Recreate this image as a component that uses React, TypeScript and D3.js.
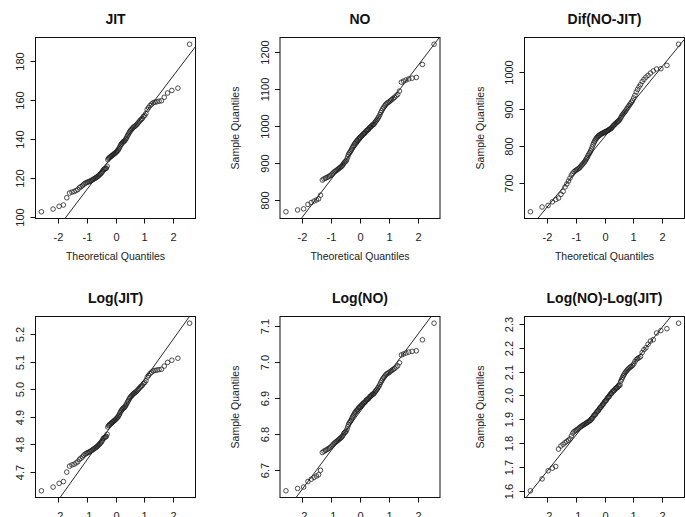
import React, { useEffect, useRef } from 'react';
import * as d3 from 'd3';

const W = 685;
const H = 517;

// sorted sample quantiles (n = 100 each)
const jit = [102.6, 104, 105.4, 106.1, 109.8, 112.2, 112.7, 113, 113.5, 114,
  115, 115.5, 116, 116.7, 117.2, 117.5, 117.8, 118, 118.2, 118.5,
  118.8, 119.1, 119.4, 119.7, 120, 120.3, 120.6, 121, 121.4, 121.8,
  122.2, 122.7, 123.3, 124, 124.3, 124.6, 124.8, 125, 126, 129.3,
  130, 130.3, 130.6, 130.9, 131.2, 131.5, 131.8, 132.1, 132.4, 132.7,
  133, 133.4, 133.8, 134.2, 134.8, 135.5, 136.3, 137, 137.5, 138,
  138.4, 138.7, 139, 139.6, 140.2, 141, 141.8, 142.5, 143.3, 144,
  144.5, 145, 145.5, 146, 146.3, 146.7, 147.1, 147.6, 148.2, 148.8,
  149.5, 150, 150.5, 151.5, 152, 153, 155, 156, 157, 157.8,
  158.5, 158.8, 159, 159.3, 159.5, 161.3, 163.5, 164.8, 166, 188.5];

const no = [767, 772, 775, 787, 792, 796, 799, 802, 812, 853,
  856, 858, 860, 862, 864, 866, 869, 872, 875, 877,
  879, 881, 883, 885, 887, 889, 891, 894, 898, 901,
  903, 905, 910, 916, 922, 926, 929, 932, 936, 940,
  944, 947, 951, 953, 956, 959, 960, 963, 966, 967,
  969, 972, 973, 975, 978, 979, 980, 983, 986, 987,
  989, 990, 993, 996, 997, 999, 1002, 1003, 1004, 1008,
  1011, 1014, 1017, 1021, 1025, 1030, 1036, 1041, 1046, 1050,
  1054, 1058, 1061, 1063, 1065, 1068, 1071, 1074, 1077, 1081,
  1085, 1094, 1118, 1121, 1124, 1127, 1129, 1131, 1166, 1221];

const difNoJit = [623, 636, 640, 650, 656, 660, 670, 678, 690, 698,
  706, 714, 722, 727, 731, 734, 736, 738, 740, 742,
  746, 749, 752, 755, 758, 762, 766, 770, 775, 779,
  783, 787, 792, 798, 804, 809, 813, 817, 820, 823,
  825, 827, 829, 830, 832, 833, 834, 835, 836, 837,
  838, 839, 840, 841, 842, 843, 845, 846, 847, 849,
  851, 854, 856, 858, 860, 862, 864, 866, 868, 870,
  873, 877, 881, 885, 888, 891, 894, 898, 902, 906,
  910, 914, 918, 923, 930, 937, 946, 953, 960, 966,
  974, 980, 986, 991, 997, 1003, 1008, 1009, 1018, 1075];

const logJit = [4.6308, 4.6444, 4.6578, 4.6644, 4.6987, 4.7203, 4.7247, 4.7274, 4.7318, 4.7362,
  4.7449, 4.7493, 4.7536, 4.7596, 4.7639, 4.7664, 4.7690, 4.7707, 4.7724, 4.7749,
  4.7774, 4.7800, 4.7825, 4.7850, 4.7875, 4.7900, 4.7925, 4.7958, 4.7991, 4.8024,
  4.8057, 4.8097, 4.8146, 4.8203, 4.8227, 4.8251, 4.8267, 4.8283, 4.8363, 4.8621,
  4.8675, 4.8698, 4.8721, 4.8744, 4.8767, 4.8790, 4.8813, 4.8836, 4.8858, 4.8881,
  4.8904, 4.8934, 4.8964, 4.8993, 4.9038, 4.9090, 4.9149, 4.9200, 4.9236, 4.9273,
  4.9301, 4.9323, 4.9345, 4.9388, 4.9431, 4.9488, 4.9544, 4.9593, 4.9649, 4.9698,
  4.9733, 4.9767, 4.9802, 4.9836, 4.9857, 4.9884, 4.9911, 4.9945, 4.9986, 5.0026,
  5.0073, 5.0106, 5.0140, 5.0206, 5.0239, 5.0304, 5.0434, 5.0499, 5.0563, 5.0613,
  5.0658, 5.0676, 5.0689, 5.0708, 5.0720, 5.0833, 5.0968, 5.1047, 5.1120, 5.2391];

const logNo = [6.6425, 6.6490, 6.6529, 6.6682, 6.6746, 6.6796, 6.6834, 6.6871, 6.6995, 6.7488,
  6.7523, 6.7546, 6.7569, 6.7593, 6.7616, 6.7639, 6.7673, 6.7708, 6.7742, 6.7765,
  6.7788, 6.7811, 6.7833, 6.7856, 6.7878, 6.7901, 6.7923, 6.7957, 6.8002, 6.8035,
  6.8057, 6.8079, 6.8134, 6.8200, 6.8265, 6.8309, 6.8341, 6.8373, 6.8416, 6.8459,
  6.8501, 6.8533, 6.8575, 6.8596, 6.8628, 6.8659, 6.8669, 6.8701, 6.8732, 6.8742,
  6.8763, 6.8794, 6.8804, 6.8824, 6.8855, 6.8865, 6.8876, 6.8906, 6.8937, 6.8947,
  6.8967, 6.8977, 6.9007, 6.9038, 6.9048, 6.9068, 6.9098, 6.9108, 6.9118, 6.9157,
  6.9187, 6.9217, 6.9246, 6.9285, 6.9325, 6.9373, 6.9431, 6.9479, 6.9527, 6.9566,
  6.9604, 6.9641, 6.9670, 6.9689, 6.9707, 6.9736, 6.9764, 6.9792, 6.9819, 6.9856,
  6.9893, 6.9976, 7.0193, 7.0220, 7.0247, 7.0273, 7.0291, 7.0309, 7.0613, 7.1074];

const logNoMinusLogJit = [1.600, 1.650, 1.684, 1.695, 1.702, 1.775, 1.788, 1.795, 1.802, 1.808,
  1.812, 1.818, 1.830, 1.842, 1.848, 1.852, 1.855, 1.858, 1.862, 1.866,
  1.869, 1.872, 1.875, 1.877, 1.879, 1.882, 1.885, 1.887, 1.889, 1.892,
  1.894, 1.897, 1.902, 1.904, 1.910, 1.915, 1.918, 1.920, 1.926, 1.931,
  1.934, 1.936, 1.942, 1.947, 1.950, 1.952, 1.958, 1.963, 1.964, 1.970,
  1.975, 1.978, 1.980, 1.986, 1.991, 1.994, 1.996, 2.002, 2.007, 2.008,
  2.014, 2.018, 2.019, 2.022, 2.027, 2.030, 2.031, 2.034, 2.038, 2.041,
  2.044, 2.060, 2.068, 2.076, 2.083, 2.090, 2.096, 2.101, 2.106, 2.111,
  2.115, 2.119, 2.122, 2.126, 2.132, 2.142, 2.150, 2.155, 2.158, 2.163,
  2.180, 2.192, 2.200, 2.215, 2.228, 2.234, 2.262, 2.272, 2.280, 2.303];

const titles = ['JIT', 'NO', 'Dif(NO-JIT)', 'Log(JIT)', 'Log(NO)', 'Log(NO)-Log(JIT)'];
const xTicks = [-2, -1, 0, 1, 2];
const yTicksJit = [100, 120, 140, 160, 180];
const yTicksNo = [800, 900, 1000, 1100, 1200];
const yTicksDif = [700, 800, 900, 1000];
const yTicksLogJit = ['4.7', '4.8', '4.9', '5.0', '5.1', '5.2'];
const yTicksLogNo = ['6.7', '6.8', '6.9', '7.0', '7.1'];
const yTicksLogDiff = ['1.6', '1.7', '1.8', '1.9', '2.0', '2.1', '2.2', '2.3'];

// inverse normal cdf (Acklam), used for qqnorm's theoretical quantiles
function qnorm(p: number): number {
  const a = [-39.69683028665376, 220.9460984245205, -275.9285104469687, 138.3577518672690, -30.66479806614716, 2.506628277459239];
  const b = [-54.47609879822406, 161.5858368580409, -155.6989798598866, 66.80131188771972, -13.28068155288572];
  const c = [-0.007784894002430293, -0.3223964580411365, -2.400758277161838, -2.549732539343734, 4.374664141464968, 2.938163982698783];
  const d = [0.007784695709041462, 0.3224671290700398, 2.445134137142996, 3.754408661907416];
  const tail = (q: number) =>
    (((((c[0] * q + c[1]) * q + c[2]) * q + c[3]) * q + c[4]) * q + c[5]) /
    ((((d[0] * q + d[1]) * q + d[2]) * q + d[3]) * q + 1);
  if (p < 0.02425) return tail(Math.sqrt(-2 * Math.log(p)));
  if (p > 1 - 0.02425) return -tail(Math.sqrt(-2 * Math.log(1 - p)));
  const q = p - 0.5;
  const r = q * q;
  return (((((a[0] * r + a[1]) * r + a[2]) * r + a[3]) * r + a[4]) * r + a[5]) * q /
    (((((b[0] * r + b[1]) * r + b[2]) * r + b[3]) * r + b[4]) * r + 1);
}

// the left column's y title and the bottom row's x title fall outside the frame
const panels = [
  { title: titles[0], values: jit, ticks: yTicksJit, ylab: false, xlab: true },
  { title: titles[1], values: no, ticks: yTicksNo, ylab: true, xlab: true },
  { title: titles[2], values: difNoJit, ticks: yTicksDif, ylab: true, xlab: true },
  { title: titles[3], values: logJit, ticks: yTicksLogJit, ylab: false, xlab: false },
  { title: titles[4], values: logNo, ticks: yTicksLogNo, ylab: true, xlab: false },
  { title: titles[5], values: logNoMinusLogJit, ticks: yTicksLogDiff, ylab: true, xlab: false },
];

const FONT = '"Liberation Sans", Arial, Helvetica, sans-serif';

// R style range: data extent widened by 4% each side
const rDomain = (v: number[]) => {
  const [lo, hi] = d3.extent(v) as [number, number];
  const pad = (hi - lo) * 0.04;
  return [lo - pad, hi + pad];
};

export default function App() {
  const ref = useRef<SVGSVGElement>(null);

  useEffect(() => {
    const svg = d3.select(ref.current);
    svg.selectAll('*').remove();

    const boxW = 160;
    const boxH = 181;

    panels.forEach((p, i) => {
      const col = i % 3;
      const row = Math.floor(i / 3);
      const left = 35.5 + col * 244.5;
      const top = row === 0 ? 37.5 : 316.5;

      const n = p.values.length;
      const theo = d3.range(n).map(k => qnorm((k + 1 - 0.5) / n));
      const x = d3.scaleLinear().domain(rDomain(theo)).range([left, left + boxW]);
      const y = d3.scaleLinear().domain(rDomain(p.values)).range([top + boxH, top]);

      const g = svg.append('g');
      const clipId = `clip${i}`;
      g.append('clipPath').attr('id', clipId)
        .append('rect').attr('x', left).attr('y', top).attr('width', boxW).attr('height', boxH);

      // qqline through the quartiles
      const q1 = d3.quantileSorted(p.values, 0.25)!;
      const q3 = d3.quantileSorted(p.values, 0.75)!;
      const z1 = qnorm(0.25), z3 = qnorm(0.75);
      const slope = (q3 - q1) / (z3 - z1);
      const icpt = q1 - slope * z1;
      const [xd0, xd1] = x.domain();
      g.append('line')
        .attr('clip-path', `url(#${clipId})`)
        .attr('x1', x(xd0)).attr('y1', y(icpt + slope * xd0))
        .attr('x2', x(xd1)).attr('y2', y(icpt + slope * xd1))
        .attr('stroke', '#111').attr('stroke-width', 0.9);

      g.append('g').selectAll('circle')
        .data(p.values)
        .join('circle')
        .attr('cx', (_, k) => x(theo[k]))
        .attr('cy', d => y(d))
        .attr('r', 2.3)
        .attr('fill', 'none')
        .attr('stroke', '#222')
        .attr('stroke-width', 0.8);

      g.append('rect')
        .attr('x', left).attr('y', top).attr('width', boxW).attr('height', boxH)
        .attr('fill', 'none').attr('stroke', '#111').attr('stroke-width', 1);

      // x axis
      const bottom = top + boxH;
      xTicks.forEach(t => {
        const px = Math.round(x(t)) + 0.5;
        g.append('line').attr('x1', px).attr('x2', px).attr('y1', bottom).attr('y2', bottom + 5)
          .attr('stroke', '#111');
        g.append('text').attr('x', px).attr('y', bottom + 22)
          .attr('text-anchor', 'middle').attr('font-size', 11).attr('font-family', FONT)
          .attr('fill', '#222').text(String(t));
      });
      if (p.xlab) {
        g.append('text').attr('x', left + boxW / 2).attr('y', bottom + 41.5)
          .attr('text-anchor', 'middle').attr('font-size', 10.5).attr('font-family', FONT)
          .attr('fill', '#222').text('Theoretical Quantiles');
      }

      // y axis
      p.ticks.forEach(t => {
        const py = Math.round(y(+t)) + 0.5;
        g.append('line').attr('x1', left - 5).attr('x2', left).attr('y1', py).attr('y2', py)
          .attr('stroke', '#111');
        g.append('text')
          .attr('transform', `translate(${left - 11.5},${py}) rotate(-90)`)
          .attr('text-anchor', 'middle').attr('font-size', 11).attr('font-family', FONT)
          .attr('fill', '#222').text(String(t));
      });
      if (p.ylab) {
        g.append('text')
          .attr('transform', `translate(${left - 41},${top + boxH / 2}) rotate(-90)`)
          .attr('text-anchor', 'middle').attr('font-size', 10.5).attr('font-family', FONT)
          .attr('fill', '#222').text('Sample Quantiles');
      }

      g.append('text').attr('x', left + boxW / 2).attr('y', top - 14)
        .attr('text-anchor', 'middle').attr('font-size', 14).attr('font-weight', 'bold')
        .attr('font-family', FONT).attr('fill', '#111').text(p.title);
    });
  }, []);

  return (
    <svg
      ref={ref}
      width={W}
      height={H}
      style={{ position: 'absolute', left: 0, top: 0, background: '#fff' }}
    />
  );
}
